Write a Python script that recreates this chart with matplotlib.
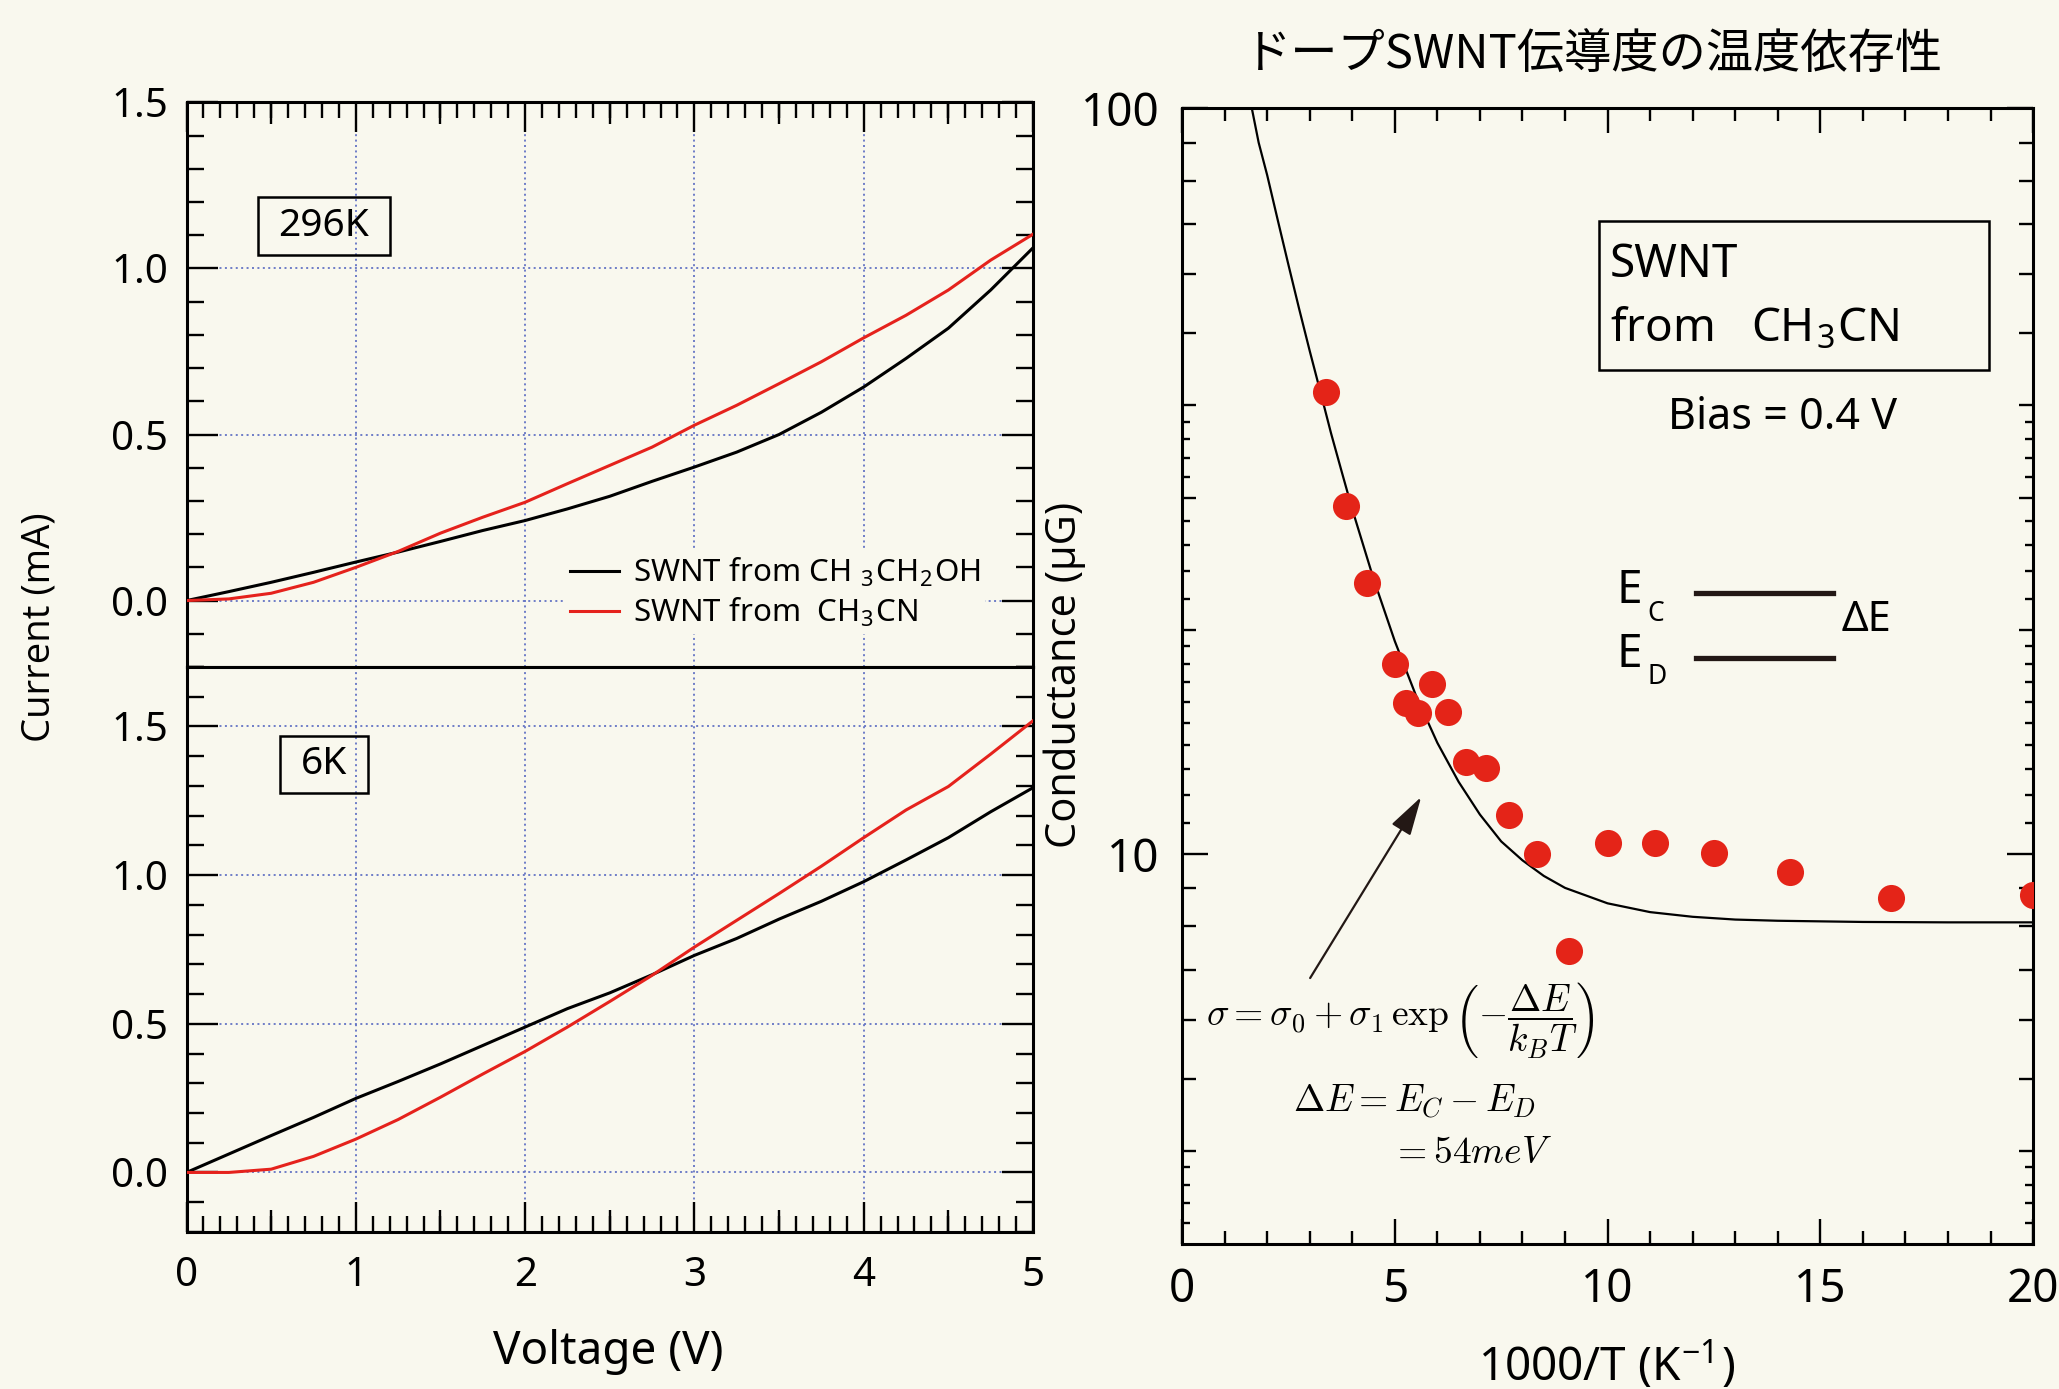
import matplotlib
matplotlib.use('Agg')
import matplotlib.pyplot as plt
from matplotlib.patches import Rectangle
from matplotlib.lines import Line2D
from matplotlib.ticker import MultipleLocator, FixedLocator, NullLocator, NullFormatter, FuncFormatter, FormatStrFormatter

plt.rcParams['font.family'] = ['Noto Sans', 'DejaVu Sans']
plt.rcParams['mathtext.fontset'] = 'cm'

BG = '#f9f8ee'
RED = '#e5221c'
DOT = '#e42418'
GRID = '#6474c4'
INK = '#231815'

# I-V curves (mA)
voltage = [0, 0.25, 0.5, 0.75, 1.0, 1.25, 1.5, 1.75, 2.0, 2.25, 2.5, 2.75,
           3.0, 3.25, 3.5, 3.75, 4.0, 4.25, 4.5, 4.75, 5.0]
i296_ethanol = [0, 0.027, 0.055, 0.085, 0.116, 0.146, 0.178, 0.211, 0.241, 0.276, 0.314, 0.359,
                0.402, 0.447, 0.500, 0.567, 0.643, 0.729, 0.820, 0.935, 1.062]
i296_acetonitrile = [0, 0.005, 0.022, 0.055, 0.100, 0.148, 0.203, 0.251, 0.296, 0.352, 0.407, 0.462,
                     0.528, 0.588, 0.653, 0.719, 0.791, 0.859, 0.935, 1.025, 1.103]
i6_ethanol = [0, 0.062, 0.124, 0.185, 0.249, 0.306, 0.365, 0.427, 0.489, 0.551, 0.604, 0.665,
              0.730, 0.787, 0.852, 0.912, 0.978, 1.051, 1.126, 1.213, 1.294]
i6_acetonitrile = [0, 0.0, 0.011, 0.054, 0.112, 0.178, 0.253, 0.331, 0.407, 0.489, 0.575, 0.663,
                   0.758, 0.848, 0.938, 1.030, 1.126, 1.219, 1.298, 1.407, 1.519]

# conductance vs temperature
temps = [296, 260, 230, 200, 190, 180, 170, 160, 150, 140, 130, 120, 110, 100, 90, 80, 70, 60, 50]
conductance = [41.7, 29.3, 23.1, 18.0, 15.95, 15.47, 16.9, 15.5, 13.3, 13.05, 11.27, 10.0, 7.42,
               10.34, 10.34, 10.04, 9.46, 8.74, 8.82]
inv_t = [1000 / t for t in temps]

# fitted curve
fit_x = [1.64, 1.8, 2.0, 2.25, 2.5, 2.75, 3.0, 3.25, 3.5, 3.75, 4.0, 4.5, 5.0, 5.5, 6.0, 6.5,
         7.0, 7.5, 8.0, 8.5, 9.0, 10, 11, 12, 13, 14, 16, 18, 20]
fit_g = [100, 90.0, 81.4, 70.8, 61.7, 53.9, 47.3, 41.7, 36.7, 32.6, 29.0, 23.4, 19.3, 16.3, 14.1, 12.5,
         11.3, 10.4, 9.81, 9.35, 9.01, 8.59, 8.36, 8.24, 8.17, 8.14, 8.11, 8.10, 8.10]

fig = plt.figure(figsize=(20.59, 13.89), dpi=100, facecolor=BG)
ax_top = fig.add_axes([0.0906, 0.5198, 0.4111, 0.4065], facecolor=BG)
ax_bot = fig.add_axes([0.0906, 0.1131, 0.4111, 0.4067], facecolor=BG)
ax_r = fig.add_axes([0.5741, 0.1044, 0.4133, 0.8175], facecolor=BG)

# extra tick levels via twins (create first: twinning resets tick sides)
tw_top = ax_top.twiny()
tw_bot = ax_bot.twiny()
tw_r = ax_r.twinx()

# ---------------- left panels ----------------
ax_top.plot(voltage, i296_ethanol, color='black', lw=2.2, label='SWNT from CH $_\\mathregular{3}$CH$_\\mathregular{2}$OH', zorder=3)
ax_top.plot(voltage, i296_acetonitrile, color=RED, lw=2.2, label='SWNT from  CH$_\\mathregular{3}$CN', zorder=3)
ax_bot.plot(voltage, i6_ethanol, color='black', lw=2.2, zorder=3)
ax_bot.plot(voltage, i6_acetonitrile, color=RED, lw=2.2, zorder=3)

ax_top.set_ylim(-0.2, 1.5)
ax_bot.set_ylim(-0.2, 1.7)
for ax, tw, side in [(ax_top, tw_top, 'top'), (ax_bot, tw_bot, 'bottom')]:
    ax.set_xlim(0, 5)
    ax.xaxis.set_major_locator(MultipleLocator(1))
    ax.xaxis.set_minor_locator(MultipleLocator(0.1))
    ax.yaxis.set_major_locator(FixedLocator([0, 0.5, 1.0, 1.5]))
    ax.yaxis.set_minor_locator(MultipleLocator(0.1))
    ax.yaxis.set_major_formatter(FormatStrFormatter('%.1f'))
    ax.tick_params(axis='both', which='both', direction='in', width=1.7, color='black')
    ax.tick_params(axis='x', which='major', length=21.5)
    ax.tick_params(axis='x', which='minor', length=11.5)
    ax.tick_params(axis='y', which='major', length=22, labelsize=29, pad=13)
    ax.tick_params(axis='y', which='minor', length=12)
    ax.tick_params(axis='y', which='both', left=True, right=True)
    ax.tick_params(axis='x', which='both', top=(side == 'top'), bottom=(side == 'bottom'),
                   labelbottom=(side == 'bottom'), labeltop=False, labelsize=29, pad=17)
    ax.grid(True, which='major', color=GRID, linestyle=(0, (1.1, 1.9)), linewidth=1.3, zorder=0)
    for s in ax.spines.values():
        s.set_linewidth(2.2)
    tw.set_xlim(0, 5)
    tw.xaxis.set_major_locator(FixedLocator([0.5, 1.5, 2.5, 3.5, 4.5]))
    tw.xaxis.set_minor_locator(NullLocator())
    tw.xaxis.set_ticks_position(side)
    tw.tick_params(axis='x', direction='in', length=16, width=1.7, labeltop=False, labelbottom=False)
    for s in tw.spines.values():
        s.set_visible(False)

leg = ax_top.legend(loc='upper left', bbox_to_anchor=(0.448, 0.205), borderaxespad=0,
                    frameon=True, facecolor=BG, edgecolor='none', framealpha=1, fancybox=False,
                    fontsize=22.5, handlelength=1.55, handletextpad=0.45, borderpad=0.15, labelspacing=0.22)
leg.set_zorder(5)

ax_top.add_patch(Rectangle((0.0845, 0.7297), 0.1559, 0.1019, transform=ax_top.transAxes,
                           fill=False, ec='black', lw=1.8, zorder=4))
ax_top.text(0.1624, 0.7806, '296K', transform=ax_top.transAxes, ha='center', va='center', fontsize=28)
ax_bot.add_patch(Rectangle((0.1105, 0.777), 0.1039, 0.1016, transform=ax_bot.transAxes,
                           fill=False, ec='black', lw=1.8, zorder=4))
ax_bot.text(0.1624, 0.8278, '6K', transform=ax_bot.transAxes, ha='center', va='center', fontsize=28)

fig.text(0.019, 0.5486, 'Current (mA)', rotation=90, ha='center', va='center', fontsize=27.5,
         family=['Open Sans', 'DejaVu Sans'])
fig.text(0.2953, 0.0266, 'Voltage (V)', ha='center', va='center', fontsize=33)

# ---------------- right panel ----------------
ax_r.plot(fit_x, fit_g, color='black', lw=1.6, zorder=2)
ax_r.plot(inv_t, conductance, 'o', color=DOT, ms=19.5, mec='none', zorder=3)

ax_r.set_xlim(0, 20)
ax_r.set_yscale('log')
ax_r.set_ylim(3, 100)
ax_r.xaxis.set_major_locator(MultipleLocator(5))
ax_r.xaxis.set_minor_locator(MultipleLocator(1))
ax_r.yaxis.set_major_locator(FixedLocator([10, 100]))
ax_r.yaxis.set_major_formatter(FuncFormatter(lambda v, p: f'{v:g}'))
ax_r.yaxis.set_minor_locator(FixedLocator([4, 5, 6, 7, 8, 9, 20, 30, 40, 50, 60, 70, 80, 90]))
ax_r.yaxis.set_minor_formatter(NullFormatter())
ax_r.tick_params(axis='both', which='both', direction='in', width=1.7, top=True, bottom=True,
                 left=True, right=True, labelsize=33)
ax_r.tick_params(axis='x', which='major', length=18, pad=16.5)
ax_r.tick_params(axis='x', which='minor', length=9.4)
ax_r.tick_params(axis='y', which='major', length=18.5, pad=16)
ax_r.tick_params(axis='y', which='minor', length=10)
for s in ax_r.spines.values():
    s.set_linewidth(2.2)

small_ticks = [3.2, 3.4, 3.6, 3.8, 11, 12, 13, 14, 15, 16, 17, 18, 19, 22, 24, 26, 28, 32, 34, 36, 38]
tw_r.set_yscale('log')
tw_r.set_ylim(3, 100)
tw_r.yaxis.set_major_locator(FixedLocator(small_ticks))
tw_r.yaxis.set_minor_locator(NullLocator())
tw_r.yaxis.set_ticks_position('both')
tw_r.tick_params(axis='y', direction='in', length=5.8, width=1.7, labelleft=False, labelright=False)
for s in tw_r.spines.values():
    s.set_visible(False)

# SWNT label box
ax_r.add_patch(Rectangle((0.490, 0.7697), 0.458, 0.1316, transform=ax_r.transAxes,
                         fill=False, ec='black', lw=1.8))
ax_r.text(0.503, 0.8518, 'SWNT', transform=ax_r.transAxes, ha='left', va='baseline', fontsize=33)
ax_r.text(0.503, 0.7948, 'from   CH$_\\mathregular{3}$CN', transform=ax_r.transAxes, ha='left',
          va='baseline', fontsize=33)
ax_r.text(0.706, 0.718, 'Bias = 0.4 V', transform=ax_r.transAxes, ha='center', va='baseline', fontsize=31)

# energy level sketch
ax_r.add_line(Line2D([0.604, 0.765], [0.5733, 0.5733], transform=ax_r.transAxes, color=INK, lw=3.8))
ax_r.add_line(Line2D([0.604, 0.765], [0.516, 0.516], transform=ax_r.transAxes, color=INK, lw=3.8))
ax_r.text(0.511, 0.5648, 'E', transform=ax_r.transAxes, ha='left', va='baseline', fontsize=33)
ax_r.text(0.547, 0.549, 'C', transform=ax_r.transAxes, ha='left', va='baseline', fontsize=19)
ax_r.text(0.511, 0.5085, 'E', transform=ax_r.transAxes, ha='left', va='baseline', fontsize=33)
ax_r.text(0.547, 0.4935, 'D', transform=ax_r.transAxes, ha='left', va='baseline', fontsize=19)
ax_r.text(0.804, 0.5495, 'ΔE', transform=ax_r.transAxes, ha='center', va='center', fontsize=30)

# fit formula and arrow
ax_r.annotate('', xy=(5.62, 11.93), xytext=(3.01, 6.82),
              arrowprops=dict(arrowstyle='-|>,head_length=0.6,head_width=0.17', color=INK,
                              lw=1.6, mutation_scale=40, shrinkA=0, shrinkB=0))
ax_r.text(0.028, 0.197, r'$\sigma = \sigma_0 + \sigma_1\,\exp\left(-\dfrac{\Delta E}{k_B T}\right)$',
          transform=ax_r.transAxes, ha='left', va='center', fontsize=27)
ax_r.text(0.130, 0.125, r'$\Delta E = E_C - E_D$', transform=ax_r.transAxes, ha='left', va='center', fontsize=27)
ax_r.text(0.245, 0.080, r'$= 54meV$', transform=ax_r.transAxes, ha='left', va='center', fontsize=27)

fig.text(0.5172, 0.514, 'Conductance (μG)', rotation=90, ha='center', va='center', fontsize=30,
         family=['Open Sans', 'DejaVu Sans'])
fig.text(0.7805, 0.0173, '1000/T (K$^\\mathregular{-1}$)', ha='center', va='center', fontsize=33)
fig.text(0.7737, 0.961, 'ドープSWNT伝導度の温度依存性', ha='center', va='center', fontsize=34,
         family=['Noto Sans CJK JP', 'DejaVu Sans'])

fig.savefig('out.png', dpi=100, facecolor=BG)
